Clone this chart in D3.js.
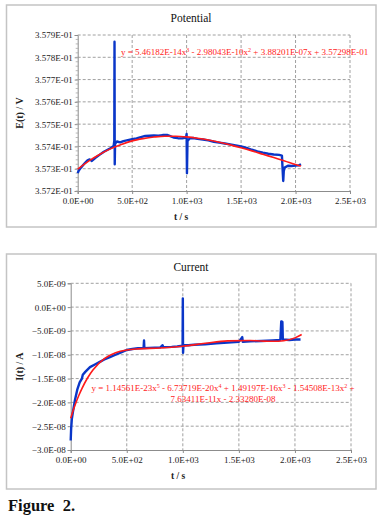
<!DOCTYPE html>
<html>
<head>
<meta charset="utf-8">
<script src="https://cdn.jsdelivr.net/npm/d3@7"></script>
<style>
  body { margin: 0; background: #fff; }
  svg { display: block; font-family: "Liberation Serif", "Times New Roman", serif; }
</style>
</head>
<body>
<div id="chart-container"></div>
<script>
// ---- data ----
// potential, measured (t in s, E in V)
const potT = [0, 10, 30, 60, 90, 110, 130, 160, 200, 240, 270, 300, 330, 336, 338, 340, 343, 360, 390, 420, 460, 500, 540, 580, 620, 660, 700, 740, 780, 820, 850, 880, 920, 960, 995, 1000, 1003, 1008, 1030, 1060, 1100, 1150, 1200, 1250, 1300, 1350, 1400, 1450, 1500, 1550, 1600, 1650, 1700, 1750, 1800, 1850, 1875, 1882, 1887, 1892, 1900, 1930, 1960, 2000, 2030, 2050];
const potE = [0.357280, 0.357292, 0.357305, 0.357322, 0.357338, 0.357342, 0.357335, 0.357348, 0.357362, 0.357376, 0.357384, 0.357392, 0.357402, 0.357425, 0.357870, 0.357320, 0.357412, 0.357422, 0.357418, 0.357424, 0.357428, 0.357432, 0.357436, 0.357442, 0.357447, 0.357448, 0.357449, 0.357448, 0.357451, 0.357452, 0.357446, 0.357440, 0.357437, 0.357436, 0.357440, 0.357456, 0.357280, 0.357425, 0.357437, 0.357438, 0.357434, 0.357431, 0.357427, 0.357421, 0.357417, 0.357413, 0.357409, 0.357405, 0.357400, 0.357393, 0.357385, 0.357378, 0.357372, 0.357367, 0.357364, 0.357362, 0.357359, 0.357290, 0.357245, 0.357290, 0.357305, 0.357313, 0.357312, 0.357314, 0.357315, 0.357320];
// potential, trend line
const potFitT = [0, 100, 200, 300, 400, 500, 600, 700, 800, 900, 1000, 1100, 1200, 1300, 1400, 1500, 1600, 1700, 1800, 1900, 2000, 2050];
const potFitE = [0.357298, 0.357334, 0.357364, 0.357389, 0.357409, 0.357425, 0.357435, 0.357442, 0.357446, 0.357446, 0.357443, 0.357437, 0.357429, 0.357419, 0.357407, 0.357394, 0.357380, 0.357365, 0.357350, 0.357335, 0.357319, 0.357312];

// current, measured (t in s, I in units of 1E-09 A)
const curT = [0, 4, 10, 20, 38, 60, 80, 100, 108, 130, 172, 220, 260, 300, 350, 400, 450, 500, 550, 600, 650, 654, 657, 700, 750, 800, 820, 825, 900, 950, 998, 1000, 1002, 1006, 1050, 1100, 1200, 1300, 1400, 1500, 1530, 1535, 1600, 1700, 1800, 1870, 1878, 1888, 1892, 1950, 2000, 2050];
const curI = [-28.0, -25.5, -23.5, -22.0, -19.5, -17.2, -15.8, -15.0, -14.2, -13.6, -12.6, -12.0, -11.5, -11.0, -10.5, -10.0, -9.5, -9.0, -8.8, -8.65, -8.6, -7.0, -8.6, -8.55, -8.5, -8.45, -8.0, -8.4, -8.35, -8.25, -8.1, 1.8, -9.6, -8.0, -8.0, -7.9, -7.8, -7.6, -7.45, -7.3, -6.3, -7.3, -7.2, -7.1, -7.0, -6.9, -3.0, -3.1, -6.8, -6.9, -6.8, -6.8];
// current, trend line
const curFitT = [0, 25, 50, 75, 100, 150, 200, 300, 400, 500, 600, 800, 1000, 1200, 1400, 1600, 1700, 1800, 1900, 2000, 2060];
const curFitI = [-23.33, -21.5, -19.88, -18.4, -17.10, -14.88, -13.15, -10.82, -9.57, -8.99, -8.76, -8.59, -8.21, -7.60, -7.09, -7.02, -7.12, -7.18, -7.05, -6.46, -5.74];

const xTicks = [0, 500, 1000, 1500, 2000, 2500];
const potTicks = [0.3572, 0.3573, 0.3574, 0.3575, 0.3576, 0.3577, 0.3578, 0.3579];
const curTicks = [-30, -25, -20, -15, -10, -5, 0, 5];

const potEq = "y = 5.46182E-14x^3 - 2.98043E-10x^2 + 3.88201E-07x + 3.57298E-01";
const curEq1 = "y = 1.14561E-23x^5 - 6.73719E-20x^4 + 1.49197E-16x^3 - 1.54508E-13x^2 +";
const curEq2 = "7.63411E-11x - 2.33280E-08";

const width = 381;
const height = 518;

const svg = d3.select("#chart-container")
    .append("svg")
    .attr("width", width)
    .attr("height", height);

const blue = "#0a36c8";
const red = "#ff1a1a";
const grid = "#a0a0a0";

// writes text with ^n turned into superscripts
function eqText(g, str, x, y, anchor) {
    const t = g.append("text")
        .attr("x", x).attr("y", y)
        .attr("font-size", 9)
        .attr("fill", red)
        .attr("text-anchor", anchor)
        .attr("xml:space", "preserve");
    let back = 0;
    str.split(/(\^\d)/).forEach(part => {
        if (part === "") return;
        if (part.startsWith("^")) {
            t.append("tspan").attr("font-size", 6).attr("dy", -3.5).text(part.slice(1));
            back = 3.5;
        } else {
            t.append("tspan").attr("dy", back).text(part);
            back = 0;
        }
    });
}

function drawChart(cfg) {
    const g = svg.append("g");

    // chart frame
    g.append("rect")
        .attr("x", cfg.box[0]).attr("y", cfg.box[1])
        .attr("width", cfg.box[2]).attr("height", cfg.box[3])
        .attr("fill", "#fff")
        .attr("stroke", "#c4c4c4")
        .attr("stroke-width", 1.5);

    const x = d3.scaleLinear().domain([0, 2500]).range([cfg.left, cfg.right]);
    const y = d3.scaleLinear().domain(cfg.yDomain).range([cfg.bottom, cfg.top]);

    // dashed gridlines
    g.append("g").selectAll("line")
        .data(cfg.yTicks.slice(1))
        .join("line")
        .attr("x1", cfg.left).attr("x2", cfg.right)
        .attr("y1", d => y(d)).attr("y2", d => y(d))
        .attr("stroke", grid).attr("stroke-dasharray", "3,2");
    g.append("g").selectAll("line")
        .data(xTicks.slice(1))
        .join("line")
        .attr("x1", d => x(d)).attr("x2", d => x(d))
        .attr("y1", cfg.top).attr("y2", cfg.bottom)
        .attr("stroke", grid).attr("stroke-dasharray", "3,2");

    // axes
    const yAxis = g.append("g")
        .attr("transform", `translate(${cfg.left},0)`)
        .call(d3.axisLeft(y).tickValues(cfg.yTicks).tickFormat(cfg.yFormat).tickSize(3).tickPadding(2));
    const xAxis = g.append("g")
        .attr("transform", `translate(0,${cfg.bottom})`)
        .call(d3.axisBottom(x).tickValues(xTicks).tickFormat(d => d3.format(".1e")(d).replace("e+", "E+0").replace("e-", "E-0")).tickSize(3).tickPadding(4));
    [yAxis, xAxis].forEach(a => {
        a.attr("font-family", null);
        a.select(".domain").attr("stroke", "#8c8c8c");
        a.selectAll(".tick line").attr("stroke", "#8c8c8c");
        a.selectAll("text").attr("font-size", 9).attr("fill", "#222");
    });

    if (cfg.minor) {
        g.append("g").selectAll("line")
            .data(d3.range(cfg.yDomain[0], cfg.yDomain[1], cfg.minor))
            .join("line")
            .attr("x1", cfg.left - 2).attr("x2", cfg.left + 1)
            .attr("y1", d => y(d)).attr("y2", d => y(d))
            .attr("stroke", "#a8a8a8").attr("stroke-width", 0.8);
    }

    const line = d3.line().x(d => x(d[0])).y(d => y(d[1]));

    g.append("path")
        .datum(d3.zip(cfg.dataT, cfg.dataV))
        .attr("d", line)
        .attr("fill", "none")
        .attr("stroke", blue)
        .attr("stroke-width", 2.4)
        .attr("stroke-linejoin", "round");

    g.append("path")
        .datum(d3.zip(cfg.fitT, cfg.fitV))
        .attr("d", line.curve(d3.curveMonotoneX))
        .attr("fill", "none")
        .attr("stroke", red)
        .attr("stroke-width", 1.6);

    // titles
    g.append("text")
        .attr("x", 191).attr("y", cfg.box[1] + 17)
        .attr("text-anchor", "middle")
        .attr("font-size", 11.5)
        .attr("fill", "#111")
        .text(cfg.title);
    g.append("text")
        .attr("x", cfg.xTitleX).attr("y", cfg.bottom + 29)
        .attr("text-anchor", "middle")
        .attr("font-size", 9.5)
        .attr("font-weight", "bold")
        .attr("fill", "#222")
        .attr("xml:space", "preserve")
        .text("t / s");
    g.append("text")
        .attr("transform", `translate(23,${(cfg.top + cfg.bottom) / 2}) rotate(-90)`)
        .attr("text-anchor", "middle")
        .attr("font-size", 10)
        .attr("font-weight", "bold")
        .attr("fill", "#222")
        .text(cfg.yTitle);

    return g;
}

const potChart = drawChart({
    box: [6.5, 5, 369.5, 222],
    left: 77.7, right: 350, top: 35, bottom: 191,
    yDomain: [0.3572, 0.3579], yTicks: potTicks, minor: 0.00002,
    yFormat: d => d3.format(".3e")(d).replace("e-1", "E-01"),
    dataT: potT, dataV: potE, fitT: potFitT, fitV: potFitE,
    title: "Potential", yTitle: "E(t) / V", xTitleX: 181
});
eqText(potChart, potEq, 121, 55, "start");

const curChart = drawChart({
    box: [6.5, 254, 369.5, 235],
    left: 70.7, right: 351, top: 283.3, bottom: 450,
    yDomain: [-30, 5], yTicks: curTicks, minor: null,
    yFormat: d => d === 0 ? "0.0E+00" : d3.format(".1e")(d * 1e-9).replace("e-9", "E-09").replace("e-8", "E-08"),
    dataT: curT, dataV: curI, fitT: curFitT, fitV: curFitI,
    title: "Current", yTitle: "I(t) / A", xTitleX: 178
});
eqText(curChart, curEq1, 223, 391, "middle");
eqText(curChart, curEq2, 223, 402, "middle");

svg.append("text")
    .attr("x", 8).attr("y", 511)
    .attr("font-size", 16.5)
    .attr("font-weight", "bold")
    .attr("fill", "#111")
    .attr("xml:space", "preserve")
    .text("Figure  2.");
</script>
</body>
</html>
